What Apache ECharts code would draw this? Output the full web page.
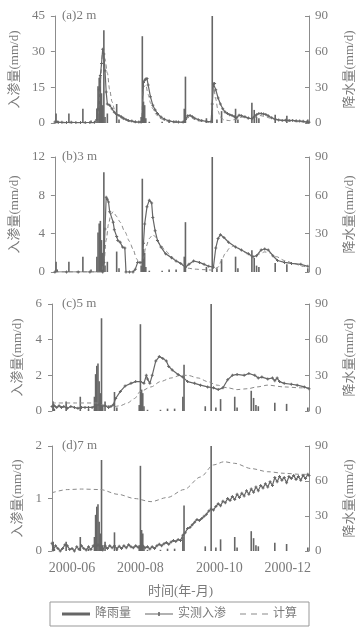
<!DOCTYPE html>
<html>
<head>
<meta charset="utf-8">
<script src="https://cdn.jsdelivr.net/npm/echarts@6/dist/echarts.min.js"></script>
<style>
html, body { margin: 0; padding: 0; background: #fff; }
#chart { width: 364px; height: 635px; }
</style>
</head>
<body>
<div id="chart"></div>
<script>
// x = day index, 0 = 2000-05-15
const dayMax = 218;
const xTickDays = [17, 75, 142, 200];
const xTickLabels = ['2000-06', '2000-08', '2000-10', '2000-12'];
const panelNames = ['(a)2 m', '(b)3 m', '(c)5 m', '(d)7 m'];
const leftMax = [45, 12, 6, 2];
const leftStep = [15, 4, 2, 1];

// 降雨量 (mm/d)
const rain = [[1,8],[2,2],[12,8],[24,12],[31,2],[36,12],[37,31],[38,38],[39,40],[40,25],[41,15],[42,78],[43,5],[45,8],
  [53,16],[55,3],[74,5],[75,73],[76,18],[77,15],[78,4],[81,1],[92,1],[98,2],[104,2],[111,12],[112,39],[130,4],
  [135,90],[139,3],[143,10],[155,12],[157,3],[169,17],[171,11],[173,5],[175,4],[189,7],[199,6],[217,3]];

// 实测入渗
const obsA = [[0,0.4],[3,0.3],[6,0.3],[10,0.2],[14,0.3],[18,0.2],[22,0.2],[26,0.2],[30,0.2],[34,0.3],[36,1.5],[37,6],[38,14],
  [39,20],[40,25],[41,31],[42,29],[43,22],[44,13],[45,8],[47,7.5],[49,6],[51,4.5],[53,3.6],[55,3.2],[57,2.6],[59,2],[61,1.5],
  [63,1.1],[66,0.8],[69,0.5],[72,0.4],[74,0.4],[75,2],[76,17],[77,18],[78,18.5],[79,18.7],[80,16],[82,11],[84,7.5],[86,5.5],
  [88,4],[91,2.5],[94,1.6],[98,0.9],[102,0.5],[106,0.4],[110,0.4],[112,1.5],[114,3],[116,3.2],[118,2.6],[120,2],[123,1.4],
  [126,1],[130,0.7],[134,0.5],[135,8],[136,16.5],[137,16.6],[138,14],[140,10.5],[142,8],[144,6],[146,4.6],[148,4],[150,3.5],
  [152,3.2],[154,2.6],[156,2.2],[158,3.3],[160,3.1],[163,2.6],[166,2.1],[169,1.8],[171,2.6],[173,3.5],[175,4],[177,4],
  [179,3.8],[181,3.6],[183,3],[186,2.2],[189,1.6],[192,1.3],[195,1.1],[198,1.2],[201,1.1],[204,1.1],[207,0.9],[210,0.8],
  [213,0.7],[216,0.4],[218,0.3]];
const obsB = [[0,0],[10,0],[20,0],[30,0],[41,0],[42,1],[43,4.5],[44,7.8],[45,7.6],[46,7.3],[47,6.3],[50,5.2],[51,4.4],[53,3.7],
  [54,3.3],[56,3.1],[58,2.6],[60,2.5],[61,0],[64,0],[67,0],[69,0.3],[71,1.0],[73,1.0],[75,1.0],[76,3],[77,5],[79,6.8],
  [81,7.5],[83,7.2],[84,5.7],[86,4.3],[88,3.3],[91,2.6],[95,1.9],[100,1.5],[104,1.15],[108,0.9],[112,0.5],[115,0.8],
  [119,1.15],[124,1.0],[128,0.8],[132,0.6],[136,0.5],[138,2.5],[140,3.5],[142,3.9],[145,3.6],[149,3.1],[155,2.6],[160,2.3],
  [166,1.9],[170,1.6],[173,1.7],[177,2.3],[180,2.4],[183,2.3],[187,1.7],[191,1.2],[197,1.0],[203,0.9],[211,0.8],[217,0.6]];
const obsC = [[0,0.25],[2,0.3],[4,0.2],[6,0.3],[8,0.2],[10,0.25],[13,0.15],[16,0.25],[19,0.2],[22,0.15],[25,0.2],[28,0.2],
  [31,0.2],[34,0.2],[37,0.3],[40,0.35],[42,0.25],[45,0.3],[48,0.2],[50,0.25],[52,0.35],[54,0.7],[58,1.1],[62,1.4],[67,1.55],
  [71,1.65],[75,1.65],[78,1.55],[80,2.0],[81,1.8],[83,1.55],[85,2.0],[88,2.8],[91,3.05],[94,2.95],[97,2.8],[99,2.5],[102,2.3],
  [107,2.05],[111,1.9],[115,1.65],[121,1.55],[126,1.45],[132,1.35],[137,1.3],[141,1.2],[145,1.3],[149,1.75],[153,2.0],
  [157,2.05],[163,2.0],[167,2.1],[172,2.0],[175,1.85],[178,1.9],[183,1.8],[187,1.85],[189,1.7],[191,1.85],[193,1.65],
  [197,1.55],[203,1.5],[208,1.45],[214,1.35],[218,1.25]];
const obsD = [[0,0.15],[1,0.02],[3,0.1],[5,0.05],[7,0.0],[9,0.05],[11,0.12],[13,0.1],[15,0.03],[17,0.05],[19,0.0],[21,0.08],
  [23,0.03],[25,0.1],[27,0.05],[29,0.02],[31,0.08],[33,0.03],[35,0.1],[37,0.05],[39,0.12],[41,0.08],[43,0.02],[45,0.1],
  [47,0.05],[49,0.1],[51,0.06],[53,0.1],[55,0.04],[57,0.09],[59,0.05],[61,0.1],[63,0.06],[65,0.12],[67,0.08],[69,0.06],
  [71,0.1],[73,0.07],[75,0.05],[77,0.1],[79,0.06],[81,0.08],[83,0.04],[85,0.08],[87,0.05],[89,0.1],[91,0.13],[93,0.1],
  [95,0.14],[97,0.16],[99,0.13],[101,0.17],[103,0.2],[105,0.18],[107,0.22],[109,0.2],[111,0.3],[113,0.35],[115,0.43],
  [117,0.45],[119,0.5],[121,0.55],[123,0.6],[125,0.58],[127,0.62],[129,0.66],[131,0.7],[133,0.76],[135,0.8],[137,0.78],
  [139,0.85],[141,0.9],[143,0.86],[145,0.95],[147,0.92],[149,1.0],[151,0.96],[153,1.04],[155,0.98],[157,1.08],[159,1.02],
  [161,1.1],[163,1.05],[165,1.15],[167,1.08],[169,1.18],[171,1.12],[173,1.22],[175,1.15],[177,1.25],[179,1.2],[181,1.28],
  [183,1.22],[185,1.32],[187,1.25],[189,1.4],[191,1.32],[193,1.42],[195,1.35],[197,1.4],[199,1.3],[201,1.42],[203,1.38],
  [205,1.44],[207,1.36],[209,1.42],[211,1.35],[213,1.44],[215,1.38],[217,1.46],[218,1.44]];

// 计算
const calcA = [[0,0],[35,0],[37,4],[39,18],[41,30],[43,27],[45,21],[47,14],[49,9],[51,6],[53,4],[56,2.3],[60,1.2],[65,0.5],
  [70,0.2],[74,0.1],[76,15],[78,16],[80,12],[82,8.5],[84,6],[87,3.5],[90,2],[95,0.9],[100,0.4],[110,0.2],[113,2],[116,2.5],
  [120,1.5],[125,0.7],[134,0.2],[136,16],[138,10],[140,5],[142,2.5],[145,1.3],[150,1],[155,1.5],[160,2.5],[165,1.8],
  [170,2],[175,3.2],[180,2.8],[185,2],[190,1.3],[200,0.8],[210,0.5],[218,0.3]];
const calcB = [[0,0],[40,0],[42,0.8],[44,3.3],[46,5],[48,6],[50,6.3],[53,5.8],[56,5.2],[60,4.2],[64,3.2],[67,2.4],[70,1.4],
  [72,1.0],[74,0.8],[76,1.5],[78,2.6],[81,3.5],[84,3.9],[86,3.7],[90,2.9],[95,2.2],[100,1.6],[105,1.1],[110,0.7],[114,0.4],
  [120,0.3],[127,0.25],[135,0.2],[140,0.5],[143,1.2],[146,1.9],[150,2.5],[153,2.7],[157,2.5],[162,2.1],[167,1.7],[172,1.6],
  [176,1.9],[180,2.1],[184,2.0],[190,1.6],[197,1.2],[205,0.9],[212,0.6],[218,0.5]];
const calcC = [[0,0.45],[20,0.45],[38,0.45],[42,0.35],[47,0.3],[53,0.25],[58,0.3],[64,0.45],[70,0.7],[75,1.1],[84,1.35],
  [92,1.65],[101,1.85],[109,2.0],[115,2.0],[124,1.85],[132,1.65],[140,1.45],[149,1.3],[157,1.2],[166,1.25],[174,1.35],
  [183,1.45],[197,1.35],[211,1.3],[218,1.3]];
const calcD = [[0,1.11],[13,1.17],[25,1.18],[41,1.17],[56,1.08],[70,1.0],[84,0.94],[98,1.02],[112,1.17],[126,1.41],
  [137,1.64],[146,1.7],[155,1.67],[169,1.57],[183,1.51],[197,1.48],[211,1.46],[218,1.46]];

const obs = [obsA, obsB, obsC, obsD];
const calc = [calcA, calcB, calcC, calcD];

const gridTops = [16, 157, 304, 446];
const gridHeights = [107, 115, 107, 105];
const numFont = "'Liberation Serif','Noto Sans CJK SC',serif";
const txtColor = '#7a7a7a';
const axColor = '#8c8c8c';
const darkGray = '#666';
const plus = 'path://M1,0H2V1H3V2H2V3H1V2H0V1H1Z';

const myChart = echarts.init(document.getElementById('chart'));

let grid = [], xAxis = [], yAxis = [], series = [], graphic = [];
for (let i = 0; i < 4; i++) {
  grid.push({ left: 52, right: 55, top: gridTops[i], height: gridHeights[i] });
  xAxis.push({
    type: 'value', gridIndex: i, min: 0, max: dayMax,
    axisLine: { show: false }, axisTick: { show: false }, splitLine: { show: false },
    axisLabel: i === 3 ? {
      show: true, customValues: xTickDays, margin: 10,
      formatter: v => xTickLabels[xTickDays.indexOf(v)],
      color: txtColor, fontFamily: numFont, fontSize: 14
    } : { show: false },
    name: i === 3 ? '时间(年-月)' : '',
    nameLocation: 'middle', nameGap: 34,
    nameTextStyle: { color: txtColor, fontFamily: numFont, fontSize: 13 }
  });
  // 左轴 入渗量
  yAxis.push({
    type: 'value', gridIndex: i, position: 'left', min: 0, max: leftMax[i], interval: leftStep[i],
    name: '入渗量(mm/d)', nameLocation: 'middle', nameRotate: 90, nameGap: 28,
    nameTextStyle: { color: txtColor, fontFamily: numFont, fontSize: 13 },
    axisLine: { show: true, lineStyle: { color: axColor } },
    axisTick: { show: true, length: 4, lineStyle: { color: axColor } },
    axisLabel: { color: txtColor, fontFamily: numFont, fontSize: 13, margin: 10 },
    splitLine: { show: false }
  });
  // 右轴 降水量
  yAxis.push({
    type: 'value', gridIndex: i, position: 'right', min: 0, max: 90, interval: 30,
    name: '降水量(mm/d)', nameLocation: 'middle', nameRotate: 90, nameGap: 34,
    nameTextStyle: { color: txtColor, fontFamily: numFont, fontSize: 13 },
    axisLine: { show: true, lineStyle: { color: axColor } },
    axisTick: { show: true, inside: true, length: 4, lineStyle: { color: axColor } },
    axisLabel: { color: txtColor, fontFamily: numFont, fontSize: 13, margin: 6 },
    splitLine: { show: false }
  });
  series.push({
    name: '降雨量', type: 'bar', xAxisIndex: i, yAxisIndex: 2 * i + 1,
    data: rain, barWidth: 1.6, itemStyle: { color: darkGray }, z: 1
  });
  series.push({
    name: '实测入渗', type: 'line', xAxisIndex: i, yAxisIndex: 2 * i,
    data: obs[i], symbol: plus, symbolSize: 3, showAllSymbol: true,
    itemStyle: { color: darkGray }, lineStyle: { color: darkGray, width: 1.2 }, z: 3
  });
  series.push({
    name: '计算', type: 'line', xAxisIndex: i, yAxisIndex: 2 * i,
    data: calc[i], symbol: 'none', smooth: 0.3, smoothMonotone: 'x',
    itemStyle: { color: '#8a8a8a' }, lineStyle: { color: '#8a8a8a', width: 1, type: [4, 3] }, z: 2
  });
  graphic.push({
    type: 'text', left: 62, top: gridTops[i] - 7,
    style: { text: panelNames[i], fill: txtColor, font: "13px 'Liberation Serif', serif" }
  });
}

myChart.setOption({
  animation: false,
  backgroundColor: '#fff',
  grid: grid,
  xAxis: xAxis,
  yAxis: yAxis,
  legend: {
    left: 50, top: 602, padding: [6, 12], itemGap: 14, itemWidth: 28, itemHeight: 12,
    borderColor: '#999', borderWidth: 1, symbolKeepAspect: true,
    textStyle: { color: txtColor, fontFamily: numFont, fontSize: 12 },
    data: [
      { name: '降雨量', icon: 'path://M0,0L28,0L28,3L0,3Z', itemStyle: { color: darkGray } },
      { name: '实测入渗', icon: 'path://M0,1.5H28V2.5H0Z M13.2,0H14.8V4H13.2Z', itemStyle: { color: darkGray } },
      { name: '计算', icon: 'path://M0,0H6V1.2H0Z M11,0H17V1.2H11Z M22,0H28V1.2H22Z', itemStyle: { color: '#8a8a8a' } }
    ]
  },
  graphic: graphic,
  series: series
});
</script>
</body>
</html>
